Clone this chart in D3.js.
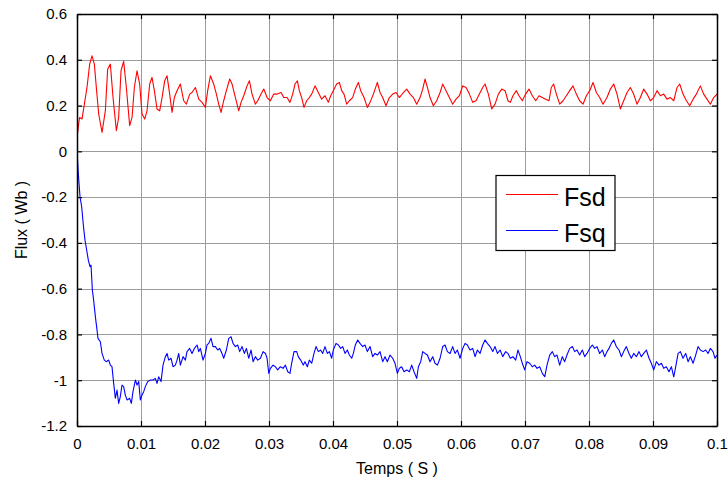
<!DOCTYPE html>
<html>
<head>
<meta charset="utf-8">
<script src="https://cdn.jsdelivr.net/npm/d3@7"></script>
<style>
  html, body { margin: 0; padding: 0; background: #fff; }
  svg { display: block; font-family: "Liberation Sans", Arial, Helvetica, sans-serif; }
</style>
</head>
<body>
<svg id="chart" width="728" height="486"></svg>
<script>
// Stator flux components (Wb) versus time; times are given in milliseconds.
const fsdTime = [0, 0.1, 0.3, 0.42, 0.78, 1.15, 1.56, 1.98, 2.34, 2.71, 3.02, 3.39, 3.91, 4.43, 4.79, 5.21, 5.63, 6.15, 6.51, 6.88, 7.29, 7.71, 8.23, 8.60, 8.96, 9.38, 9.79, 10.16, 10.58, 10.94, 11.36, 11.72, 12.09, 12.50, 12.92, 13.29, 13.70, 14.07, 14.48, 14.85, 15.21, 15.63, 16.15, 16.67, 17.09, 17.61, 17.97, 18.50, 19.02, 19.54, 20.06, 20.42, 20.84, 21.36, 21.78, 22.14, 22.51, 22.92, 23.34, 23.86, 24.23, 24.75, 25.27, 25.63, 26.05, 26.57, 26.94, 27.35, 27.87, 28.24, 28.76, 29.18, 29.70, 30.22, 30.74, 31.26, 31.89, 32.30, 32.82, 33.28, 33.70, 34.06, 34.43, 34.74, 35.10, 35.47, 35.89, 36.30, 36.67, 37.19, 37.71, 38.23, 38.75, 39.27, 39.64, 40.05, 40.57, 40.99, 41.36, 41.72, 42.14, 42.55, 43.07, 43.49, 43.96, 44.33, 44.85, 45.37, 45.79, 46.31, 46.93, 47.35, 47.76, 48.28, 48.81, 49.33, 49.85, 50.37, 51.00, 51.52, 52.04, 52.56, 53.08, 53.60, 54.02, 54.38, 54.75, 55.16, 55.68, 56.20, 56.73, 57.14, 57.66, 58.18, 58.70, 59.22, 59.75, 60.27, 60.79, 61.31, 61.83, 62.35, 62.87, 63.39, 63.76, 64.28, 64.80, 65.32, 65.84, 66.36, 66.89, 67.34, 67.71, 68.12, 68.64, 69.06, 69.58, 70.10, 70.62, 71.14, 71.67, 72.19, 72.71, 73.23, 73.75, 74.11, 74.48, 74.90, 75.42, 75.94, 76.46, 76.98, 77.50, 78.02, 78.54, 79.06, 79.59, 80.11, 80.63, 81.15, 81.67, 82.19, 82.81, 83.34, 83.86, 84.38, 84.90, 85.42, 85.94, 86.46, 86.98, 87.50, 88.03, 88.55, 89.07, 89.59, 90.11, 90.63, 91.15, 91.67, 92.19, 92.71, 93.24, 93.76, 94.17, 94.69, 95.22, 95.74, 96.26, 96.78, 97.40, 97.92, 98.44, 98.96, 99.48, 100];
const fsdValues = [0.12, 0.08, 0.13, 0.148, 0.141, 0.206, 0.279, 0.381, 0.417, 0.381, 0.279, 0.163, 0.083, 0.177, 0.359, 0.381, 0.235, 0.090, 0.148, 0.352, 0.393, 0.279, 0.112, 0.148, 0.279, 0.352, 0.294, 0.163, 0.141, 0.177, 0.294, 0.323, 0.265, 0.185, 0.177, 0.235, 0.308, 0.330, 0.250, 0.170, 0.235, 0.265, 0.294, 0.221, 0.206, 0.250, 0.257, 0.279, 0.228, 0.214, 0.192, 0.265, 0.330, 0.294, 0.250, 0.206, 0.170, 0.221, 0.265, 0.316, 0.294, 0.235, 0.177, 0.214, 0.243, 0.286, 0.308, 0.250, 0.206, 0.221, 0.250, 0.272, 0.235, 0.221, 0.250, 0.250, 0.257, 0.235, 0.235, 0.214, 0.250, 0.294, 0.308, 0.265, 0.235, 0.192, 0.221, 0.235, 0.250, 0.286, 0.257, 0.228, 0.243, 0.214, 0.243, 0.265, 0.294, 0.301, 0.265, 0.250, 0.206, 0.221, 0.235, 0.272, 0.301, 0.265, 0.235, 0.192, 0.214, 0.250, 0.301, 0.257, 0.235, 0.199, 0.235, 0.250, 0.257, 0.235, 0.257, 0.272, 0.250, 0.235, 0.206, 0.235, 0.272, 0.316, 0.279, 0.235, 0.199, 0.221, 0.257, 0.294, 0.265, 0.235, 0.206, 0.228, 0.243, 0.286, 0.279, 0.250, 0.214, 0.221, 0.250, 0.279, 0.294, 0.250, 0.185, 0.206, 0.250, 0.272, 0.265, 0.221, 0.214, 0.243, 0.265, 0.243, 0.221, 0.250, 0.272, 0.243, 0.221, 0.243, 0.235, 0.228, 0.221, 0.279, 0.294, 0.250, 0.206, 0.221, 0.243, 0.265, 0.286, 0.250, 0.221, 0.206, 0.243, 0.265, 0.301, 0.257, 0.235, 0.206, 0.235, 0.272, 0.294, 0.250, 0.185, 0.221, 0.257, 0.279, 0.250, 0.206, 0.235, 0.272, 0.250, 0.221, 0.235, 0.265, 0.243, 0.250, 0.228, 0.235, 0.221, 0.279, 0.294, 0.250, 0.221, 0.199, 0.228, 0.250, 0.286, 0.250, 0.228, 0.206, 0.235, 0.250];

const fsqTime = [0, 0.2, 0.47, 0.73, 0.99, 1.25, 1.51, 1.77, 2.03, 2.19, 2.4, 2.6, 2.87, 3.13, 3.28, 3.65, 3.91, 4.27, 4.58, 4.95, 5.21, 5.47, 5.73, 5.99, 6.25, 6.51, 6.77, 7.03, 7.29, 7.55, 7.82, 8.23, 8.49, 8.75, 9.12, 9.38, 9.64, 9.90, 10.16, 10.42, 10.68, 11.05, 11.46, 11.88, 12.24, 12.50, 12.76, 13.13, 13.44, 13.81, 14.07, 14.33, 14.69, 15.00, 15.37, 15.63, 15.89, 16.15, 16.57, 16.93, 17.19, 17.61, 17.97, 18.34, 18.76, 19.02, 19.28, 19.69, 20.06, 20.32, 20.58, 20.94, 21.26, 21.62, 21.99, 22.30, 22.66, 22.92, 23.34, 23.71, 24.07, 24.38, 24.75, 25.11, 25.42, 25.79, 26.15, 26.47, 26.83, 27.20, 27.51, 27.87, 28.24, 28.66, 29.07, 29.44, 29.70, 29.96, 30.22, 30.63, 31.00, 31.36, 31.78, 32.20, 32.56, 32.93, 33.28, 33.54, 33.91, 34.32, 34.58, 34.95, 35.36, 35.62, 35.99, 36.30, 36.67, 37.03, 37.35, 37.71, 38.07, 38.39, 38.75, 39.11, 39.43, 39.79, 40.05, 40.47, 40.84, 41.20, 41.52, 41.88, 42.24, 42.55, 42.92, 43.18, 43.49, 43.86, 44.22, 44.64, 45.00, 45.37, 45.79, 46.20, 46.57, 46.93, 47.35, 47.76, 48.13, 48.49, 48.91, 49.33, 49.69, 50.06, 50.37, 50.73, 51.10, 51.52, 51.93, 52.30, 52.66, 53.08, 53.34, 53.70, 54.02, 54.38, 54.75, 55.16, 55.58, 55.94, 56.31, 56.73, 57.14, 57.51, 57.87, 58.29, 58.70, 59.07, 59.43, 59.85, 60.27, 60.63, 61.00, 61.41, 61.83, 62.20, 62.56, 62.98, 63.39, 63.76, 64.12, 64.54, 64.96, 65.32, 65.69, 66.11, 66.52, 66.98, 67.34, 67.71, 68.12, 68.54, 68.90, 69.27, 69.58, 69.95, 70.31, 70.73, 71.14, 71.51, 71.88, 72.30, 72.71, 73.08, 73.44, 73.86, 74.27, 74.64, 75.00, 75.42, 75.83, 76.20, 76.56, 76.98, 77.40, 77.76, 78.13, 78.54, 78.96, 79.32, 79.69, 80.11, 80.52, 80.89, 81.25, 81.67, 82.09, 82.45, 82.81, 83.13, 83.49, 83.86, 84.27, 84.69, 85.06, 85.42, 85.83, 86.25, 86.62, 86.98, 87.40, 87.81, 88.18, 88.55, 88.96, 89.38, 89.74, 90.11, 90.53, 90.94, 91.31, 91.67, 92.09, 92.50, 92.87, 93.24, 93.55, 93.92, 94.28, 94.69, 95.11, 95.48, 95.84, 96.26, 96.67, 97.04, 97.40, 97.82, 98.23, 98.60, 98.96, 99.38, 99.69, 100];
const fsqValues = [0.006, -0.096, -0.198, -0.242, -0.322, -0.388, -0.431, -0.475, -0.504, -0.497, -0.606, -0.650, -0.722, -0.781, -0.817, -0.832, -0.883, -0.912, -0.919, -0.912, -0.934, -0.941, -1.014, -1.079, -1.043, -1.101, -1.072, -1.021, -1.028, -1.065, -1.086, -1.079, -1.101, -1.050, -0.999, -1.021, -1.006, -1.086, -1.065, -1.050, -1.028, -1.006, -0.999, -0.999, -0.992, -1.014, -0.985, -1.006, -0.934, -0.897, -0.883, -0.912, -0.904, -0.941, -0.934, -0.912, -0.883, -0.934, -0.897, -0.912, -0.875, -0.861, -0.883, -0.861, -0.846, -0.875, -0.861, -0.912, -0.883, -0.846, -0.839, -0.817, -0.853, -0.853, -0.868, -0.861, -0.883, -0.904, -0.868, -0.817, -0.810, -0.839, -0.853, -0.846, -0.875, -0.853, -0.883, -0.861, -0.904, -0.868, -0.919, -0.897, -0.912, -0.904, -0.875, -0.883, -0.904, -0.970, -0.948, -0.934, -0.941, -0.955, -0.941, -0.948, -0.934, -0.963, -0.970, -0.926, -0.875, -0.875, -0.897, -0.912, -0.934, -0.919, -0.941, -0.912, -0.926, -0.883, -0.853, -0.875, -0.868, -0.883, -0.853, -0.883, -0.875, -0.904, -0.868, -0.839, -0.846, -0.861, -0.853, -0.883, -0.868, -0.890, -0.904, -0.883, -0.846, -0.824, -0.839, -0.853, -0.846, -0.875, -0.853, -0.897, -0.883, -0.890, -0.875, -0.919, -0.897, -0.919, -0.890, -0.904, -0.926, -0.970, -0.948, -0.941, -0.963, -0.955, -0.963, -0.934, -0.963, -0.992, -0.941, -0.919, -0.875, -0.883, -0.890, -0.919, -0.897, -0.926, -0.934, -0.904, -0.853, -0.846, -0.875, -0.883, -0.853, -0.883, -0.868, -0.904, -0.861, -0.839, -0.846, -0.868, -0.861, -0.897, -0.868, -0.883, -0.846, -0.824, -0.839, -0.853, -0.875, -0.853, -0.883, -0.868, -0.897, -0.875, -0.883, -0.904, -0.897, -0.912, -0.868, -0.897, -0.926, -0.955, -0.919, -0.926, -0.941, -0.934, -0.948, -0.941, -0.970, -0.985, -0.934, -0.890, -0.875, -0.897, -0.890, -0.934, -0.897, -0.919, -0.890, -0.861, -0.853, -0.875, -0.868, -0.890, -0.868, -0.897, -0.883, -0.861, -0.846, -0.861, -0.853, -0.883, -0.868, -0.897, -0.875, -0.861, -0.839, -0.824, -0.853, -0.868, -0.897, -0.875, -0.853, -0.883, -0.904, -0.883, -0.897, -0.875, -0.897, -0.883, -0.868, -0.904, -0.926, -0.955, -0.919, -0.934, -0.926, -0.948, -0.941, -0.963, -0.941, -0.985, -0.941, -0.883, -0.875, -0.904, -0.883, -0.919, -0.897, -0.926, -0.890, -0.853, -0.868, -0.875, -0.868, -0.883, -0.861, -0.875, -0.904, -0.890];

const xTickValues = [0, 0.01, 0.02, 0.03, 0.04, 0.05, 0.06, 0.07, 0.08, 0.09, 0.1];
const xTickLabels = ["0", "0.01", "0.02", "0.03", "0.04", "0.05", "0.06", "0.07", "0.08", "0.09", "0.1"];
const yTickValues = [0.6, 0.4, 0.2, 0, -0.2, -0.4, -0.6, -0.8, -1, -1.2];
const yTickLabels = ["0.6", "0.4", "0.2", "0", "-0.2", "-0.4", "-0.6", "-0.8", "-1", "-1.2"];

const seriesNames = ["Fsd", "Fsq"];
const seriesColors = ["#ff0000", "#0000ff"];

const svg = d3.select("#chart");
const plot = { left: 77, right: 717, top: 14, bottom: 426 };

const x = d3.scaleLinear().domain([0, 0.1]).range([plot.left, plot.right]);
const y = d3.scaleLinear().domain([-1.2, 0.6]).range([plot.bottom, plot.top]);

// grid lines
const grid = svg.append("g").attr("stroke", "#8a8a8a").attr("stroke-width", 1).attr("opacity", 0.85);
grid.selectAll("line.gx").data(xTickValues.slice(1, -1)).join("line")
  .attr("x1", d => Math.round(x(d)) + 0.5).attr("x2", d => Math.round(x(d)) + 0.5)
  .attr("y1", plot.top).attr("y2", plot.bottom);
grid.selectAll("line.gy").data(yTickValues.slice(1, -1)).join("line")
  .attr("y1", d => Math.round(y(d)) + 0.5).attr("y2", d => Math.round(y(d)) + 0.5)
  .attr("x1", plot.left).attr("x2", plot.right);

// data traces
svg.append("clipPath").attr("id", "clip").append("rect")
  .attr("x", plot.left).attr("y", plot.top)
  .attr("width", plot.right - plot.left).attr("height", plot.bottom - plot.top);

const traces = [
  { times: fsdTime, values: fsdValues },
  { times: fsqTime, values: fsqValues }
];
const line = d3.line().x(d => x(d[0] / 1000)).y(d => y(d[1]));
traces.forEach((s, i) => {
  svg.append("path")
    .datum(s.times.map((t, k) => [t, s.values[k]]))
    .attr("clip-path", "url(#clip)")
    .attr("fill", "none")
    .attr("stroke", seriesColors[i])
    .attr("stroke-width", 1.1)
    .attr("stroke-linejoin", "round")
    .attr("d", line);
});

// axes: ticks inward on all four sides
const fmtX = d => xTickLabels[xTickValues.indexOf(d)];
const fmtY = d => yTickLabels[yTickValues.indexOf(d)];

const axB = svg.append("g").attr("transform", `translate(0,${plot.bottom})`)
  .call(d3.axisBottom(x).tickValues(xTickValues).tickFormat(fmtX).tickSizeInner(-5).tickSizeOuter(0).tickPadding(12));
const axT = svg.append("g").attr("transform", `translate(0,${plot.top})`)
  .call(d3.axisTop(x).tickValues(xTickValues).tickFormat("").tickSizeInner(-5).tickSizeOuter(0));
const axL = svg.append("g").attr("transform", `translate(${plot.left},0)`)
  .call(d3.axisLeft(y).tickValues(yTickValues).tickFormat(fmtY).tickSizeInner(-5).tickSizeOuter(0).tickPadding(10));
const axR = svg.append("g").attr("transform", `translate(${plot.right},0)`)
  .call(d3.axisRight(y).tickValues(yTickValues).tickFormat("").tickSizeInner(-5).tickSizeOuter(0));

[axB, axT, axL, axR].forEach(a => {
  a.select(".domain").attr("stroke", "#000").attr("stroke-width", 1.5);
  a.selectAll(".tick line").attr("stroke", "#000").attr("stroke-width", 1.2);
  a.selectAll("text").attr("fill", "#000").attr("font-size", 15)
    .attr("font-family", "'Liberation Sans', Arial, sans-serif");
});

// axis titles
svg.append("text")
  .attr("x", (plot.left + plot.right) / 2).attr("y", 474)
  .attr("text-anchor", "middle").attr("font-size", 16).attr("fill", "#000")
  .text("Temps ( S )");
svg.append("text")
  .attr("transform", `translate(27,${(plot.top + plot.bottom) / 2}) rotate(-90)`)
  .attr("text-anchor", "middle").attr("font-size", 16).attr("fill", "#000")
  .text("Flux ( Wb )");

// legend
const legend = svg.append("g");
legend.append("rect")
  .attr("x", 496).attr("y", 175.5).attr("width", 119).attr("height", 75)
  .attr("fill", "#fff").attr("stroke", "#000").attr("stroke-width", 1.2);
seriesNames.forEach((name, i) => {
  const ly = 194.5 + i * 36;
  legend.append("line")
    .attr("x1", 506).attr("x2", 558).attr("y1", ly).attr("y2", ly)
    .attr("stroke", seriesColors[i]).attr("stroke-width", 1.2);
  legend.append("text")
    .attr("x", 564).attr("y", ly + 11.5)
    .attr("font-size", 25).attr("fill", "#000")
    .text(name);
});
</script>
</body>
</html>
